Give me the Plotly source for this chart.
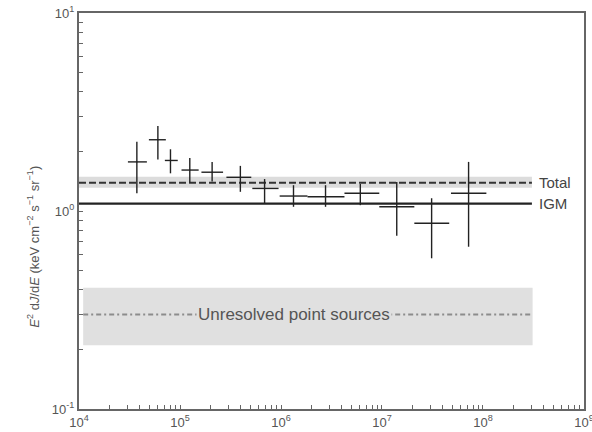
import numpy as np
import plotly.graph_objects as go

# ---- data ----
energy = [3.74e4, 6.04e4, 8.05e4, 1.25e5, 2.08e5, 3.96e5, 6.88e5,
          1.33e6, 2.76e6, 6.1e6, 1.4e7, 3.1e7, 7.2e7]
energy_lo = [3.05e4, 4.92e4, 7.08e4, 1.035e5, 1.63e5, 2.88e5, 5.2e5,
             9.7e5, 1.83e6, 4.25e6, 9.4e6, 2.09e7, 4.82e7]
energy_hi = [4.7e4, 7.24e4, 9.5e4, 1.53e5, 2.67e5, 5.08e5, 9.46e5,
             1.83e6, 4.25e6, 9.4e6, 2.09e7, 4.63e7, 1.08e8]
flux = [1.77, 2.29, 1.80, 1.61, 1.57, 1.48, 1.30, 1.19, 1.18, 1.23, 1.05, 0.867, 1.23]
flux_lo = [1.23, 1.82, 1.55, 1.39, 1.41, 1.25, 1.09, 1.05, 1.05, 1.07, 0.75, 0.577, 0.66]
flux_hi = [2.24, 2.69, 2.05, 1.85, 1.77, 1.69, 1.45, 1.35, 1.35, 1.37, 1.40, 1.16, 1.77]

model_x = [1e4, 3.05e8]
total_level, total_lo, total_hi = 1.39, 1.31, 1.49
igm_level = 1.09
unres_x = [1.1e4, 3.1e8]
unres_level, unres_lo, unres_hi = 0.30, 0.21, 0.41

x_tick_exps = [4, 5, 6, 7, 8, 9]
y_tick_exps = [-1, 0, 1]

# ---- figure ----
fig = go.Figure()

band_color = "#dcdcdc"

fig.add_trace(go.Scatter(
    x=[model_x[0], model_x[1], model_x[1], model_x[0]],
    y=[total_lo, total_lo, total_hi, total_hi],
    fill="toself", fillcolor=band_color, mode="none", hoverinfo="skip", showlegend=False))
fig.add_trace(go.Scatter(
    x=[unres_x[0], unres_x[1], unres_x[1], unres_x[0]],
    y=[unres_lo, unres_lo, unres_hi, unres_hi],
    fill="toself", fillcolor="#e0e0e0", mode="none", hoverinfo="skip", showlegend=False))

fig.add_trace(go.Scatter(x=model_x, y=[total_level] * 2, mode="lines",
                         line=dict(color="#333333", width=2, dash="7px,3px"),
                         showlegend=False))
fig.add_trace(go.Scatter(x=model_x, y=[igm_level] * 2, mode="lines",
                         line=dict(color="#222222", width=2.2),
                         showlegend=False))
fig.add_trace(go.Scatter(x=unres_x, y=[unres_level] * 2, mode="lines",
                         line=dict(color="#8c8c8c", width=2, dash="5px,3px,2px,3px"),
                         showlegend=False))

e = np.array(energy)
f = np.array(flux)
fig.add_trace(go.Scatter(
    x=energy, y=flux, mode="markers",
    marker=dict(size=1, color="#222222"),
    error_x=dict(type="data", symmetric=False,
                 array=(np.array(energy_hi) - e).tolist(),
                 arrayminus=(e - np.array(energy_lo)).tolist(),
                 color="#222222", thickness=1.4, width=0),
    error_y=dict(type="data", symmetric=False,
                 array=(np.array(flux_hi) - f).tolist(),
                 arrayminus=(f - np.array(flux_lo)).tolist(),
                 color="#222222", thickness=1.4, width=0),
    showlegend=False))

font_family = "Liberation Sans, Arial, sans-serif"

fig.add_annotation(x=np.log10(3.4e8), y=np.log10(total_level), text="Total",
                   showarrow=False, xanchor="left", yanchor="middle",
                   font=dict(size=15, color="#444444", family=font_family))
fig.add_annotation(x=np.log10(3.4e8), y=np.log10(igm_level), text="IGM",
                   showarrow=False, xanchor="left", yanchor="middle",
                   font=dict(size=15, color="#444444", family=font_family))
fig.add_annotation(x=np.log10(1.36e6), y=np.log10(unres_level), text="Unresolved point sources",
                   showarrow=False, xanchor="center", yanchor="middle",
                   bgcolor="#e0e0e0", borderpad=1,
                   font=dict(size=17, color="#555555", family=font_family))

fig.add_annotation(xref="paper", yref="paper", x=-0.091, y=0.41,
                   text="<i>E</i><sup>2</sup> d<i>J</i>/d<i>E</i> (keV cm<sup>\u22122</sup> s<sup>\u22121</sup> sr<sup>\u22121</sup>)",
                   textangle=-90, showarrow=False, xanchor="center", yanchor="middle",
                   font=dict(size=13, color="#555555", family=font_family))

axis_common = dict(
    type="log", showgrid=False, zeroline=False,
    showline=True, linecolor="#666666", linewidth=2, mirror=True,
    ticks="inside", ticklen=4, tickcolor="#666666", tickwidth=1,
    automargin=False, ticklabeloverflow="allow",
    tickfont=dict(size=13, color="#555555", family=font_family),
)

fig.update_xaxes(**axis_common, range=[4, 9.0001],
                 tickvals=[10.0 ** k for k in x_tick_exps],
                 ticktext=["10<sup>%d</sup>" % k for k in x_tick_exps],
                 minor=dict(ticks="inside", ticklen=4, tickcolor="#666666", dtick="D1", showgrid=False))
fig.update_yaxes(**axis_common, range=[-1, 1],
                 tickvals=[10.0 ** k for k in y_tick_exps],
                 ticktext=["10<sup>%d</sup>" % k for k in y_tick_exps],
                 minor=dict(ticks="inside", ticklen=4, tickcolor="#666666", dtick="D1", showgrid=False))

fig.update_layout(
    width=592, height=432,
    margin=dict(l=79, r=8, t=13, b=23),
    paper_bgcolor="white", plot_bgcolor="white",
    font=dict(family=font_family),
    showlegend=False,
)

fig.write_html("out.html", config={"displayModeBar": False},
               post_script="document.body.style.margin='0';document.body.style.overflow='hidden';")
